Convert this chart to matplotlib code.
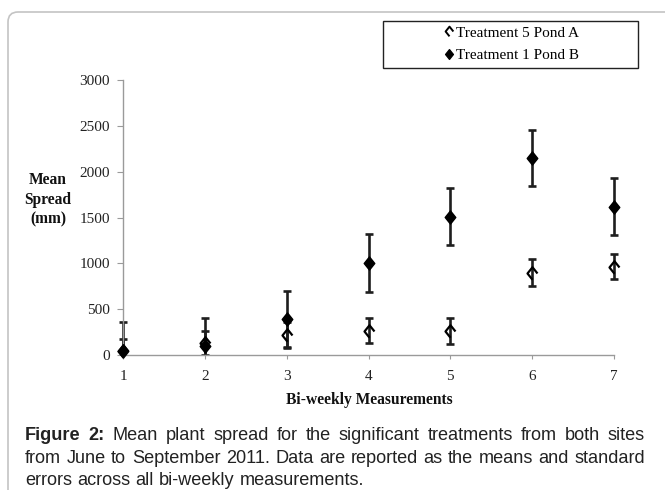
import matplotlib
matplotlib.use('Agg')
import matplotlib.pyplot as plt
from matplotlib.path import Path
from matplotlib.patches import FancyBboxPatch, Rectangle
from matplotlib.lines import Line2D

# data
weeks = [1, 2, 3, 4, 5, 6, 7]
pond_a_mean = [40, 130, 215, 265, 265, 900, 965]
pond_a_se = [135, 135, 140, 135, 140, 145, 140]
pond_b_mean = [45, 100, 390, 1005, 1510, 2150, 1620]
pond_b_se = [315, 300, 305, 315, 310, 310, 310]
yticks = [0, 500, 1000, 1500, 2000, 2500, 3000]

W, H = 665, 490
serif = 'Liberation Serif'
sans = 'Liberation Sans'

fig = plt.figure(figsize=(W / 100, H / 100), dpi=100)

# rounded grey frame around the figure
frame = FancyBboxPatch((8, -30), 720, H - 12 + 30, boxstyle='round,pad=0,rounding_size=10',
                       transform=None, facecolor='none', edgecolor='#c4c4c4', linewidth=1.2)
fig.patches.append(frame)

ax = fig.add_axes([123 / W, 1 - 355 / H, (614 - 123) / W, (355 - 80) / H])

diamond = Path([(0, 1), (0.8, 0), (0, -1), (-0.8, 0), (0, 1)],
               [Path.MOVETO, Path.LINETO, Path.LINETO, Path.LINETO, Path.CLOSEPOLY])
open_mark = Path([(0, -1), (-0.8, 0), (0, 1), (0.8, 0)])

# clip error bars only at the bottom (below zero), not at the left/right edges
clip_rect = Rectangle((-0.05, 0), 1.1, 1.2, transform=ax.transAxes, facecolor='none')
for m, se in [(pond_a_mean, pond_a_se), (pond_b_mean, pond_b_se)]:
    eb = ax.errorbar(weeks, m, yerr=se, fmt='none', ecolor='#1e1e1e',
                     elinewidth=1.9, capsize=3, capthick=1.9, zorder=2)
    for art in list(eb.lines[1]) + list(eb.lines[2]):
        art.set_clip_path(clip_rect)
ax.plot(weeks, pond_a_mean, linestyle='none', marker=open_mark, markersize=9,
        markerfacecolor='none', markeredgecolor='black', markeredgewidth=1.6,
        clip_on=False, zorder=3)
ax.plot(weeks, pond_b_mean, linestyle='none', marker=diamond, markersize=9.5,
        color='black', clip_on=False, zorder=3)

ax.set_xlim(1, 7)
ax.set_ylim(0, 3000)
ax.set_xticks(weeks)
ax.set_yticks(yticks)
for s in ['top', 'right']:
    ax.spines[s].set_visible(False)
for s in ['left', 'bottom']:
    ax.spines[s].set_color('#9a9a9a')
    ax.spines[s].set_linewidth(1.0)
ax.tick_params(axis='y', direction='out', length=4.5, color='#9a9a9a', pad=5,
               labelsize=11, labelcolor='#222222')
ax.tick_params(axis='x', direction='out', length=3, color='#9a9a9a', pad=8,
               labelsize=11, labelcolor='#222222')
for lab in ax.get_xticklabels() + ax.get_yticklabels():
    lab.set_family(serif)

fig.text(369 / W, 1 - 400 / H, 'Bi-weekly Measurements', family=serif, weight='bold',
         fontsize=11.2, ha='center', va='center', color='#111111')
fig.text(48 / W, 1 - 200 / H, 'Mean\nSpread\n(mm)', family=serif, weight='bold',
         fontsize=11.2, ha='center', va='center', linespacing=1.3, color='#111111')

# legend box
fig.patches.append(Rectangle((383, H - 68), 255, 47, transform=None,
                             facecolor='white', edgecolor='#222222', linewidth=1.0))
handles = [Line2D([], [], linestyle='none', marker=open_mark, markersize=7,
                  markerfacecolor='none', markeredgecolor='black', markeredgewidth=1.4),
           Line2D([], [], linestyle='none', marker=diamond, markersize=7, color='black')]
fig.legend(handles, ['Treatment 5 Pond A', 'Treatment 1 Pond B'], loc='center',
           bbox_to_anchor=(512 / W, 1 - 44 / H), frameon=False, handlelength=0.6,
           handletextpad=0.15, labelspacing=0.55, prop={'family': serif, 'size': 11})

# caption, justified between x=25 and x=645 px
cap_size = 13.1
cap_lines = [[('Figure', 'bold'), ('2:', 'bold'), ('Mean', 'normal'), ('plant', 'normal'),
              ('spread', 'normal'), ('for', 'normal'), ('the', 'normal'),
              ('significant', 'normal'), ('treatments', 'normal'), ('from', 'normal'),
              ('both', 'normal'), ('sites', 'normal')],
             [(w, 'normal') for w in
              'from June to September 2011. Data are reported as the means and standard'.split()],
             [(w, 'normal') for w in 'errors across all bi-weekly measurements.'.split()]]
cap_y = [435, 458, 480]
x_left, x_right = 25, 645
renderer = fig.canvas.get_renderer()
for i, (words, y) in enumerate(zip(cap_lines, cap_y)):
    texts = [fig.text(0, 1 - y / H, w, family=sans, weight=wt, fontsize=cap_size,
                      va='center', color='#222222') for w, wt in words]
    widths = [t.get_window_extent(renderer).width for t in texts]
    if i < len(cap_lines) - 1:
        gap = (x_right - x_left - sum(widths)) / (len(words) - 1)
    else:
        gap = cap_size * 100 / 72 * 0.278
    x = x_left
    for t, w in zip(texts, widths):
        t.set_x(x / W)
        x += w + gap

fig.savefig('out.png', dpi=100)
